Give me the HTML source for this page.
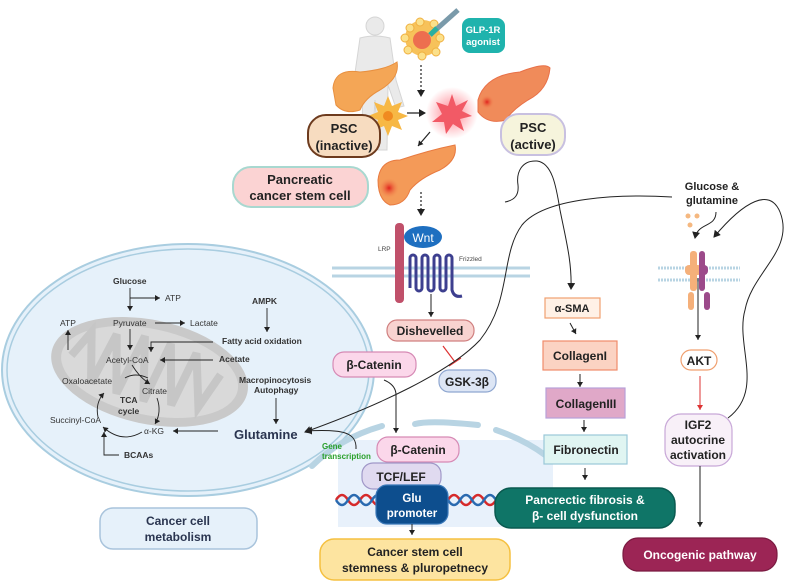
<!DOCTYPE html>
<html><head><meta charset="utf-8"><style>
html,body{margin:0;padding:0;background:#fff}
svg{display:block}
text{font-family:"Liberation Sans",sans-serif}
.b{font-weight:bold}
</style></head><body>
<svg width="788" height="588" viewBox="0 0 788 588" xmlns="http://www.w3.org/2000/svg">
<defs>
<marker id="a" markerWidth="8" markerHeight="8" refX="6" refY="4" orient="auto" markerUnits="userSpaceOnUse"><path d="M0,0 L7,4 L0,8 Z" fill="#222"/></marker>
<marker id="s" markerWidth="6" markerHeight="6" refX="5" refY="3" orient="auto" markerUnits="userSpaceOnUse"><path d="M0,0 L5,3 L0,6 Z" fill="#222"/></marker>
<marker id="r" markerWidth="6" markerHeight="6" refX="5" refY="3" orient="auto" markerUnits="userSpaceOnUse"><path d="M0,0 L5,3 L0,6 Z" fill="#d33"/></marker>
<radialGradient id="glow"><stop offset="0" stop-color="#ff4d5e" stop-opacity=".7"/><stop offset="1" stop-color="#ff4d5e" stop-opacity="0"/></radialGradient>
<radialGradient id="spot"><stop offset="0" stop-color="#e0201c"/><stop offset="1" stop-color="#f28a50" stop-opacity="0"/></radialGradient>
</defs>

<!-- Cell -->
<ellipse cx="188" cy="370" rx="186" ry="126" fill="#e6f1fa" stroke="#a9cde0" stroke-width="2"/>
<ellipse cx="188" cy="370" rx="181" ry="121" fill="none" stroke="#a9cde0" stroke-width="1.5"/>
<!-- mitochondrion -->
<g transform="rotate(12 150 370)">
<ellipse cx="150" cy="372" rx="100" ry="52" fill="#c9c9c9"/>
<ellipse cx="150" cy="372" rx="90" ry="43" fill="#d9d9d9"/>
<path d="M70,372 L85,345 L95,395 L110,342 L122,400 L138,338 L150,402 L165,340 L178,400 L192,344 L205,396 L220,360" fill="none" stroke="#c6c6c6" stroke-width="8"/>
</g>

<!-- cell metabolism text -->
<g font-size="8.5" fill="#333">
<text x="113" y="284" class="b">Glucose</text>
<text x="165" y="301">ATP</text>
<text x="113" y="326">Pyruvate</text>
<text x="190" y="326">Lactate</text>
<text x="60" y="326">ATP</text>
<text x="252" y="304" class="b">AMPK</text>
<text x="222" y="344" class="b">Fatty acid oxidation</text>
<text x="106" y="363">Acetyl-CoA</text>
<text x="219" y="362" class="b">Acetate</text>
<text x="62" y="384">Oxaloacetate</text>
<text x="142" y="394">Citrate</text>
<text x="120" y="403" class="b">TCA</text>
<text x="118" y="414" class="b">cycle</text>
<text x="239" y="383" class="b">Macropinocytosis</text>
<text x="254" y="393" class="b">Autophagy</text>
<text x="50" y="423">Succinyl-CoA</text>
<text x="144" y="434">α-KG</text>
<text x="124" y="458" class="b">BCAAs</text>
</g>
<text x="234" y="439" font-size="13" class="b" fill="#2a3550">Glutamine</text>
<g stroke="#222" stroke-width="0.9" fill="none">
<path d="M130,288 V311" marker-end="url(#s)"/>
<path d="M130,298 H160" marker-end="url(#s)"/>
<path d="M155,323 H185" marker-end="url(#s)"/>
<path d="M130,329 V350" marker-end="url(#s)"/>
<path d="M68,350 V330" marker-end="url(#s)"/>
<path d="M267,308 V332" marker-end="url(#s)"/>
<path d="M213,342 H151 V352" marker-end="url(#s)"/>
<path d="M213,360 H160" marker-end="url(#s)"/>
<path d="M132,365 Q140,378 150,384" marker-end="url(#s)"/>
<path d="M157,398 Q162,412 155,424" marker-end="url(#s)"/>
<path d="M142,432 Q122,444 103,427" marker-end="url(#s)"/>
<path d="M98,417 Q95,403 104,393" marker-end="url(#s)"/>
<path d="M148,378 Q135,372 125,378"/>
<path d="M218,431 H173" marker-end="url(#s)"/>
<path d="M276,398 V424" marker-end="url(#s)"/>
<path d="M119,455 H104 V432" marker-end="url(#s)"/>
</g>

<!-- Cancer cell metabolism -->
<rect x="100" y="508" width="157" height="41" rx="13" fill="#e6f1fa" stroke="#a9c4dc" stroke-width="1.5"/>
<text x="178" y="525" font-size="12" class="b" text-anchor="middle" fill="#2a3550">Cancer  cell</text>
<text x="178" y="541" font-size="12" class="b" text-anchor="middle" fill="#2a3550">metabolism</text>

<!-- nucleus -->
<rect x="338" y="440" width="215" height="87" fill="#e8f1fb"/>
<path d="M312,466 Q340,438 382,426" stroke="#b8d4e3" stroke-width="6" fill="none" stroke-linecap="round"/>
<path d="M415,424 Q430,420 478,425" stroke="#b8d4e3" stroke-width="6" fill="none" stroke-linecap="round"/>
<path d="M496,430 Q525,440 545,455" stroke="#b8d4e3" stroke-width="6" fill="none" stroke-linecap="round"/>
<text x="322" y="449" font-size="8" class="b" fill="#2aa02a">Gene</text>
<text x="322" y="459" font-size="8" class="b" fill="#2aa02a">transcription</text>

<!-- DNA -->
<path d="M336,500 q6,-10 12,0 t12,0 t12,0 t12,0 M448,500 q6,-10 12,0 t12,0 t12,0 t12,0" stroke="#d62a2a" stroke-width="2.5" fill="none"/>
<path d="M336,500 q6,10 12,0 t12,0 t12,0 t12,0 M448,500 q6,10 12,0 t12,0 t12,0 t12,0" stroke="#2a6ab0" stroke-width="2.5" fill="none"/>

<!-- Top illustrations -->
<g opacity="0.7" fill="#e2e2e2" stroke="#c4c4c4">
<circle cx="375" cy="26" r="9"/>
<path d="M360,38 Q375,34 390,38 L396,80 L404,106 L396,108 L388,85 L387,150 L378,150 L375,100 L372,150 L363,150 L362,85 L354,108 L346,106 L354,80 Z"/>
</g>
<path d="M333,88 Q335,68 360,72 Q385,70 397,62 Q400,78 380,90 Q365,98 360,110 Q345,115 336,105 Z" fill="#f4a656" stroke="#e89040"/>
<g fill="#f7c25a"><circle cx="423" cy="38" r="18"/></g>
<g fill="#fbe08a" stroke="#f0b040"><circle cx="410" cy="28" r="4"/><circle cx="420" cy="22" r="4"/><circle cx="434" cy="24" r="4"/><circle cx="440" cy="38" r="4"/><circle cx="436" cy="52" r="4"/><circle cx="422" cy="56" r="4"/><circle cx="408" cy="50" r="4"/><circle cx="405" cy="38" r="4"/></g>
<circle cx="422" cy="40" r="9" fill="#e84a4a" opacity=".7"/>
<path d="M430,35 L458,10" stroke="#7a9aaa" stroke-width="5"/>
<path d="M430,35 L437,28" stroke="#2ab0a0" stroke-width="5"/>
<rect x="462" y="18" width="43" height="35" rx="8" fill="#1fb3ad"/>
<text x="483" y="33" font-size="9.5" class="b" text-anchor="middle" fill="#fff">GLP-1R</text>
<text x="483" y="45" font-size="9.5" class="b" text-anchor="middle" fill="#fff">agonist</text>
<path d="M421,65 V96" stroke="#222" stroke-width="1.2" stroke-dasharray="2,2" fill="none" marker-end="url(#a)"/>
<path d="M388,96 L392,106 L402,102 L398,112 L408,116 L398,120 L402,130 L392,126 L388,136 L384,126 L374,130 L378,120 L368,116 L378,112 L374,102 L384,106 Z" fill="#f7b845"/>
<circle cx="388" cy="116" r="5" fill="#f08a20"/>
<path d="M407,113 H425" stroke="#222" stroke-width="1.2" marker-end="url(#a)"/>
<circle cx="452" cy="113" r="26" fill="url(#glow)"/>
<path d="M452,94 L456,106 L468,100 L462,111 L472,116 L460,119 L464,131 L453,124 L446,134 L444,122 L432,122 L442,114 L436,102 L448,106 Z" fill="#f25a66"/>
<path d="M478,100 Q485,75 520,72 Q545,62 550,68 Q548,90 528,100 Q512,110 506,120 Q488,125 478,112 Z" fill="#f08b5a" stroke="#e87048"/>
<circle cx="487" cy="102" r="7" fill="url(#spot)"/>
<rect x="308" y="115" width="72" height="42" rx="18" fill="#f7dcc0" stroke="#6d3b1e" stroke-width="2"/>
<text x="344" y="133" font-size="13" class="b" text-anchor="middle" fill="#222">PSC</text>
<text x="344" y="150" font-size="13" class="b" text-anchor="middle" fill="#222">(inactive)</text>
<rect x="501" y="114" width="64" height="41" rx="18" fill="#f6f4dc" stroke="#c8c0e0" stroke-width="2"/>
<text x="533" y="132" font-size="13" class="b" text-anchor="middle" fill="#222">PSC</text>
<text x="533" y="149" font-size="13" class="b" text-anchor="middle" fill="#222">(active)</text>
<path d="M430,132 L418,146" stroke="#222" stroke-width="1.2" marker-end="url(#s)"/>
<path d="M378,180 Q380,160 400,160 Q430,150 455,145 Q458,160 440,170 Q420,178 410,190 Q405,205 390,205 Q378,200 378,180 Z" fill="#f49a58" stroke="#e87a40"/>
<circle cx="389" cy="188" r="10" fill="url(#spot)"/>
<rect x="233" y="167" width="135" height="40" rx="18" fill="#fbd3d3" stroke="#a8d8d0" stroke-width="2"/>
<text x="300" y="184" font-size="13" class="b" text-anchor="middle" fill="#222">Pancreatic</text>
<text x="300" y="200" font-size="13" class="b" text-anchor="middle" fill="#222">cancer stem cell</text>
<path d="M421,192 V215" stroke="#222" stroke-width="1.2" stroke-dasharray="2,2" fill="none" marker-end="url(#a)"/>

<!-- Wnt receptor -->
<path d="M332,268 H530 M332,276 H530" stroke="#b8d4e3" stroke-width="3"/>
<rect x="395" y="223" width="9" height="80" rx="4" fill="#c0506a"/>
<text x="378" y="251" font-size="6.5" fill="#444">LRP</text>
<path d="M410,288 V258 a3,3 0 0 1 6,0 V288 a3,3 0 0 0 6,0 V258 a3,3 0 0 1 6,0 V288 a3,3 0 0 0 6,0 V258 a3,3 0 0 1 6,0 V288 a3,3 0 0 0 6,0 V258 a3,3 0 0 1 6,0 V290 q2,8 10,6" stroke="#3d3f8f" stroke-width="3" fill="none"/>
<ellipse cx="423" cy="237" rx="19" ry="11" fill="#1e6fc0"/>
<text x="423" y="242" font-size="12" text-anchor="middle" fill="#fff">Wnt</text>
<text x="459" y="261" font-size="6.5" fill="#444">Frizzled</text>
<path d="M431,294 V317" stroke="#222" stroke-width="1" marker-end="url(#s)"/>
<rect x="387" y="320" width="87" height="21" rx="10" fill="#f8d3d0" stroke="#d08080" stroke-width="1.2"/>
<text x="430" y="335" font-size="12" class="b" text-anchor="middle" fill="#222">Dishevelled</text>
<path d="M443,346 L455,362 M449,366 L461,358" stroke="#d33" stroke-width="1.2"/>
<rect x="439" y="370" width="57" height="22" rx="10" fill="#dde6f5" stroke="#8fa7d0" stroke-width="1.2"/>
<text x="467" y="386" font-size="12" class="b" text-anchor="middle" fill="#222">GSK-3β</text>
<rect x="333" y="352" width="83" height="25" rx="11" fill="#fbd7ea" stroke="#d68ab5" stroke-width="1.2"/>
<text x="374" y="369" font-size="12" class="b" text-anchor="middle" fill="#222">β-Catenin</text>
<path d="M384,380 Q396,385 396,395 V433" stroke="#222" stroke-width="1" fill="none" marker-end="url(#s)"/>

<!-- nucleus boxes -->
<rect x="377" y="437" width="82" height="25" rx="11" fill="#fbd7ea" stroke="#d68ab5" stroke-width="1.2"/>
<text x="418" y="454" font-size="12" class="b" text-anchor="middle" fill="#222">β-Catenin</text>
<rect x="362" y="463" width="79" height="26" rx="11" fill="#e0daf0" stroke="#a098c8" stroke-width="1.2"/>
<text x="401" y="481" font-size="12" class="b" text-anchor="middle" fill="#222">TCF/LEF</text>
<rect x="376" y="485" width="72" height="39" rx="11" fill="#0d4e8e" stroke="#3a78b8" stroke-width="1.2"/>
<text x="412" y="502" font-size="11.5" class="b" text-anchor="middle" fill="#fff">Glu</text>
<text x="412" y="517" font-size="11.5" class="b" text-anchor="middle" fill="#fff">promoter</text>
<path d="M412,524 V535" stroke="#222" stroke-width="1" marker-end="url(#s)"/>
<rect x="320" y="539" width="190" height="41" rx="14" fill="#fde4a0" stroke="#f5c040" stroke-width="1.5"/>
<text x="415" y="556" font-size="12" class="b" text-anchor="middle" fill="#222">Cancer stem cell</text>
<text x="415" y="572" font-size="12" class="b" text-anchor="middle" fill="#222">stemness &amp; pluropetnecy</text>

<!-- fibrosis column -->
<path d="M505,202 C515,200 519,195 518,185 C516,172 522,160 537,161 C552,163 556,185 560,210 C566,240 572,262 571,289" stroke="#222" stroke-width="1" fill="none" marker-end="url(#a)"/>
<rect x="545" y="298" width="55" height="20" fill="#fff1e6" stroke="#f0a070" stroke-width="1.2"/>
<text x="572" y="312" font-size="11" class="b" text-anchor="middle" fill="#222">α-SMA</text>
<path d="M570,323 L576,334" stroke="#222" stroke-width="1" marker-end="url(#s)"/>
<rect x="543" y="341" width="74" height="29" fill="#fbd3c3" stroke="#f08c6c" stroke-width="1.2"/>
<text x="580" y="360" font-size="12" class="b" text-anchor="middle" fill="#222">CollagenI</text>
<path d="M580,374 V387" stroke="#222" stroke-width="1" marker-end="url(#s)"/>
<rect x="546" y="388" width="79" height="30" fill="#e0a8c8" stroke="#b8a0d8" stroke-width="1.2"/>
<text x="586" y="408" font-size="12" class="b" text-anchor="middle" fill="#222">CollagenIII</text>
<path d="M584,420 V432" stroke="#222" stroke-width="1" marker-end="url(#s)"/>
<rect x="544" y="435" width="83" height="29" fill="#e0f5f2" stroke="#9ac8d8" stroke-width="1.2"/>
<text x="586" y="454" font-size="12" class="b" text-anchor="middle" fill="#222">Fibronectin</text>
<path d="M585,468 V480" stroke="#222" stroke-width="1" marker-end="url(#s)"/>
<rect x="495" y="488" width="180" height="40" rx="16" fill="#0f7567" stroke="#0a5a50" stroke-width="1.5"/>
<text x="585" y="504" font-size="12" class="b" text-anchor="middle" fill="#fff">Pancrectic fibrosis &amp;</text>
<text x="585" y="520" font-size="12" class="b" text-anchor="middle" fill="#fff">β- cell dysfunction</text>

<!-- long curve glutamine <-> glucose -->
<path d="M672,197 C620,194 545,197 522,225 C500,255 512,300 480,340 C450,372 380,405 305,432" stroke="#222" stroke-width="1" fill="none" marker-end="url(#a)"/>
<path d="M356,449 C357,432 342,429 306,431" stroke="#222" stroke-width="1" fill="none" marker-end="url(#a)"/>

<!-- right column -->
<text x="712" y="190" font-size="11" class="b" text-anchor="middle" fill="#222">Glucose &amp;</text>
<text x="712" y="204" font-size="11" class="b" text-anchor="middle" fill="#222">glutamine</text>
<g fill="#f5b880"><circle cx="688" cy="216" r="2.5"/><circle cx="697" cy="216" r="2.5"/><circle cx="690" cy="225" r="2.5"/></g>
<path d="M716,212 C716,228 698,222 695,238" stroke="#222" stroke-width="1" fill="none" marker-end="url(#a)"/>
<path d="M728,418 C765,390 735,345 745,310 C752,272 795,250 780,212 C770,188 745,200 714,237" stroke="#222" stroke-width="1" fill="none" marker-end="url(#a)"/>
<path d="M658,268 H740 M658,280 H740" stroke="#b8d4e3" stroke-width="3" stroke-dasharray="2,1"/>
<rect x="690" y="251" width="7" height="40" rx="3" fill="#f5b07a"/>
<rect x="685" y="265" width="17" height="10" rx="4" fill="#f5b07a"/>
<rect x="699" y="251" width="6" height="40" rx="3" fill="#9c4a8a"/>
<rect x="700" y="265" width="8" height="10" rx="4" fill="#9c4a8a"/>
<rect x="688" y="292" width="6" height="18" rx="3" fill="#f5b07a"/>
<rect x="704" y="292" width="6" height="18" rx="3" fill="#9c4a8a"/>
<path d="M698,278 V340" stroke="#222" stroke-width="1" marker-end="url(#s)"/>
<rect x="681" y="350" width="36" height="20" rx="10" fill="#fff" stroke="#f0a070" stroke-width="1.2"/>
<text x="699" y="365" font-size="12" class="b" text-anchor="middle" fill="#222">AKT</text>
<path d="M700,376 V410" stroke="#d33" stroke-width="1" marker-end="url(#r)"/>
<rect x="665" y="414" width="67" height="52" rx="16" fill="#f8f0f8" stroke="#c8a8d8" stroke-width="1.2"/>
<text x="698" y="429" font-size="12" class="b" text-anchor="middle" fill="#222">IGF2</text>
<text x="698" y="444" font-size="12" class="b" text-anchor="middle" fill="#222">autocrine</text>
<text x="698" y="459" font-size="12" class="b" text-anchor="middle" fill="#222">activation</text>
<path d="M700,466 V527" stroke="#222" stroke-width="1" marker-end="url(#s)"/>
<rect x="623" y="538" width="154" height="33" rx="15" fill="#9c2555" stroke="#7a1a40" stroke-width="1.2"/>
<text x="700" y="559" font-size="12" class="b" text-anchor="middle" fill="#fff">Oncogenic pathway</text>
</svg>
</body></html>
